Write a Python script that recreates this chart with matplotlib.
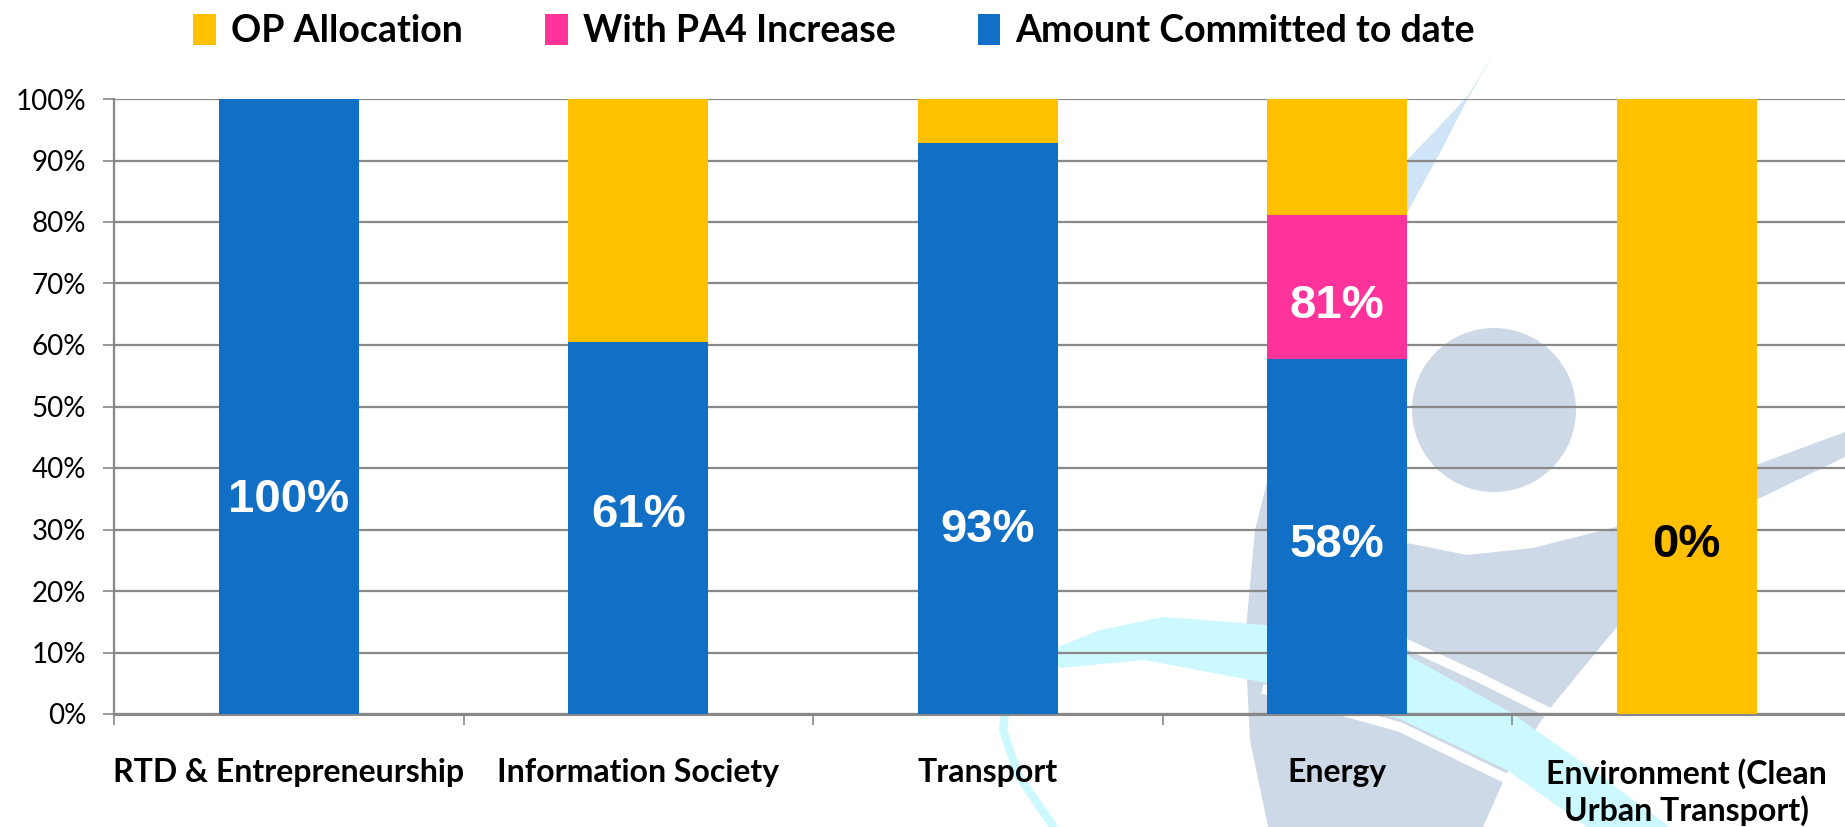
import matplotlib
matplotlib.use("Agg")
from matplotlib import pyplot as plt
from matplotlib.patches import Polygon, Circle
import numpy as np

# данные
categories = ["RTD & Entrepreneurship", "Information Society", "Transport", "Energy",
              "Environment (Clean\nUrban Transport)"]
committed = [1.00, 0.605, 0.929, 0.577, 0.0]
pa4_increase = [0.0, 0.0, 0.0, 0.234, 0.0]
op_allocation = [0.0, 0.395, 0.071, 0.189, 1.0]
committed_labels = ["100%", "61%", "93%", "58%", "0%"]
pa4_labels = ["", "", "", "81%", ""]

# положение подписей (доля оси y)
committed_label_y = [0.348, 0.323, 0.30, 0.275, 0.275]
pa4_label_y = 0.663

c_yellow = "#FFC000"
c_pink = "#FF3399"
c_blue = "#1170C6"

W, H = 1845, 827
fig = plt.figure(figsize=(W / 100, H / 100), dpi=100)

# фон - логотип (водяной знак), в пикселях
bg = fig.add_axes([0, 0, 1, 1], zorder=0)
bg.set_xlim(0, W)
bg.set_ylim(H, 0)
bg.axis("off")

gray = "#CDD9E7"
cyan = "#CCF9FF"
gray_body = [(1407, 200), (1330, 330), (1280, 430), (1255, 530), (1245, 640), (1250, 740),
             (1268, 827), (1483, 827), (1507, 773), (1547, 712), (1616, 628), (1756, 500),
             (1845, 457), (1845, 432), (1756, 465), (1616, 527), (1533, 548), (1467, 555),
             (1407, 543), (1380, 420), (1400, 300)]
bg.add_patch(Polygon(gray_body, closed=True, fc=gray, ec="none"))
light_swoosh = [(1493, 55), (1467, 97), (1433, 133), (1407, 160), (1370, 210), (1350, 260),
                (1380, 250), (1407, 213), (1440, 153), (1467, 100)]
bg.add_patch(Polygon(light_swoosh, closed=True, fc="#CFE5F7", ec="none"))
bg.add_patch(Circle((1494, 410), 82, fc=gray, ec="none"))
bg.plot([1400, 1480, 1552], [641, 678, 714], color="white", lw=7)
bg.plot([1267, 1400, 1507, 1575], [690, 727, 779, 827], color="white", lw=7)
cyan_band = [(1045, 652), (1100, 630), (1164, 617), (1267, 625), (1407, 655), (1510, 712),
             (1590, 768), (1670, 827), (1587, 827), (1507, 770), (1400, 719), (1267, 683),
             (1144, 660), (1060, 668)]
bg.add_patch(Polygon(cyan_band, closed=True, fc=cyan, ec="none"))
bg.plot([1008, 1003, 1018, 1042, 1062], [690, 730, 775, 810, 840], color=cyan, lw=6,
        solid_capstyle="butt")

# основной график
ax = fig.add_axes([114 / W, 1 - 714 / H, 1 - 114 / W, (714 - 99) / H], zorder=1)
ax.patch.set_alpha(0)

x = np.arange(len(categories))
bw = 0.4
ax.bar(x, committed, bw, color=c_blue, zorder=3, label="Amount Committed to date")
ax.bar(x, pa4_increase, bw, bottom=committed, color=c_pink, zorder=3, label="With PA4 Increase")
bottom2 = np.array(committed) + np.array(pa4_increase)
ax.bar(x, op_allocation, bw, bottom=bottom2, color=c_yellow, zorder=3, label="OP Allocation")

for i in range(len(categories)):
    col = "black" if committed[i] == 0 else "white"
    ax.text(x[i], committed_label_y[i], committed_labels[i], ha="center", va="center",
            color=col, fontsize=34, fontweight="bold", family="Liberation Sans", zorder=4)
    if pa4_labels[i]:
        ax.text(x[i], pa4_label_y, pa4_labels[i], ha="center", va="center", color="white",
                fontsize=34, fontweight="bold", family="Liberation Sans", zorder=4)

ax.set_ylim(0, 1)
ax.set_xlim(-0.5, -0.5 + (W - 114) / 349.5)
ax.set_yticks(np.arange(0, 1.01, 0.1))
ax.set_yticklabels([f"{int(round(v * 100))}%" for v in np.arange(0, 1.01, 0.1)],
                   fontsize=20, family="Lato")
ax.yaxis.grid(True, color="#888888", lw=1.6)
ax.set_axisbelow(True)

ax.set_xticks(x)
ax.set_xticklabels(categories, fontsize=23, fontweight="bold", family="Lato", linespacing=1.25)
ax.set_xticks(np.arange(-0.5, 4.5, 1), minor=True)
ax.tick_params(axis="x", which="major", length=0, pad=32)
ax.tick_params(axis="x", which="minor", length=8, color="#888888", width=1.2)
ax.tick_params(axis="y", length=8, color="#888888", width=1.2, pad=12)

for s in ["top", "right"]:
    ax.spines[s].set_visible(False)
ax.spines["left"].set_color("#888888")
ax.spines["left"].set_linewidth(1.6)
ax.spines["bottom"].set_color("#888888")
ax.spines["bottom"].set_linewidth(2.2)

h, l = ax.get_legend_handles_labels()
order = [2, 1, 0]
fig.legend([h[i] for i in order], [l[i] for i in order], loc="center", ncol=3,
           bbox_to_anchor=(0.452, 1 - 31 / H), frameon=False,
           prop={"family": "Lato", "weight": "bold", "size": 27},
           handlelength=0.6, handleheight=0.9, handletextpad=0.4, columnspacing=2.2)

fig.savefig("out.png", dpi=100)
